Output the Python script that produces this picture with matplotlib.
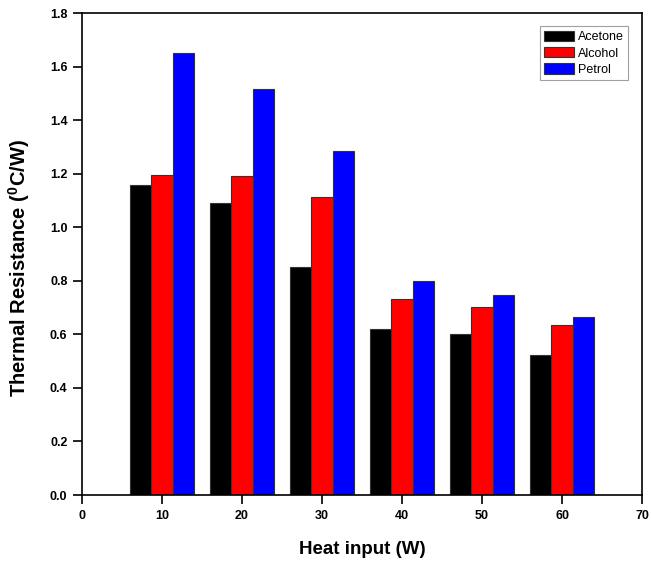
import numpy as np
import matplotlib
matplotlib.use("Agg")
import matplotlib.pyplot as plt

plt.rcParams['font.family'] = ['Liberation Sans', 'DejaVu Sans']
plt.rcParams['mathtext.fontset'] = 'custom'
plt.rcParams['mathtext.rm'] = 'Liberation Sans:bold'
plt.rcParams['mathtext.bf'] = 'Liberation Sans:bold'

heat = [10, 20, 30, 40, 50, 60]
acetone = [1.158, 1.090, 0.852, 0.620, 0.602, 0.523]
alcohol = [1.195, 1.191, 1.114, 0.732, 0.702, 0.634]
petrol = [1.652, 1.516, 1.286, 0.799, 0.748, 0.665]

fig = plt.figure(figsize=(6.51, 5.62), dpi=100)
ax = fig.add_axes([82/651, 1-495/562, 560/651, 482/562])

w = 8/3
x = np.array(heat)
ax.bar(x - w, acetone, w, color='black', edgecolor='#333333', linewidth=0.8, label='Acetone')
ax.bar(x, alcohol, w, color='red', edgecolor='#333333', linewidth=0.8, label='Alcohol')
ax.bar(x + w, petrol, w, color='blue', edgecolor='#333333', linewidth=0.8, label='Petrol')

ax.set_xlim(0, 70)
ax.set_ylim(0, 1.8)
ax.set_xticks(range(0, 71, 10))
ax.set_yticks(np.arange(0, 1.81, 0.2))
ax.set_yticklabels(['%.1f' % v for v in np.arange(0, 1.81, 0.2)])
ax.tick_params(direction='out', length=6.5, width=1.2, labelsize=9, pad=4)
for lab in ax.get_xticklabels() + ax.get_yticklabels():
    lab.set_fontweight('bold')
for s in ax.spines.values():
    s.set_linewidth(1.2)

ax.set_xlabel('Heat input (W)', fontsize=13.5, fontweight='bold', labelpad=14)
ax.set_ylabel(r'Thermal Resistance ($^{0}$C/W)', fontsize=14.5, fontweight='bold')
ax.yaxis.set_label_coords(-0.09, 0.47)

leg = ax.legend(loc='upper right', bbox_to_anchor=(0.987, 0.985), fontsize=9,
                frameon=True, fancybox=False, edgecolor='#888888',
                handlelength=2.4, handleheight=0.9, handletextpad=0.3,
                labelspacing=0.3, borderpad=0.35)
leg.get_frame().set_linewidth(0.8)

fig.savefig('out.png', dpi=100)
